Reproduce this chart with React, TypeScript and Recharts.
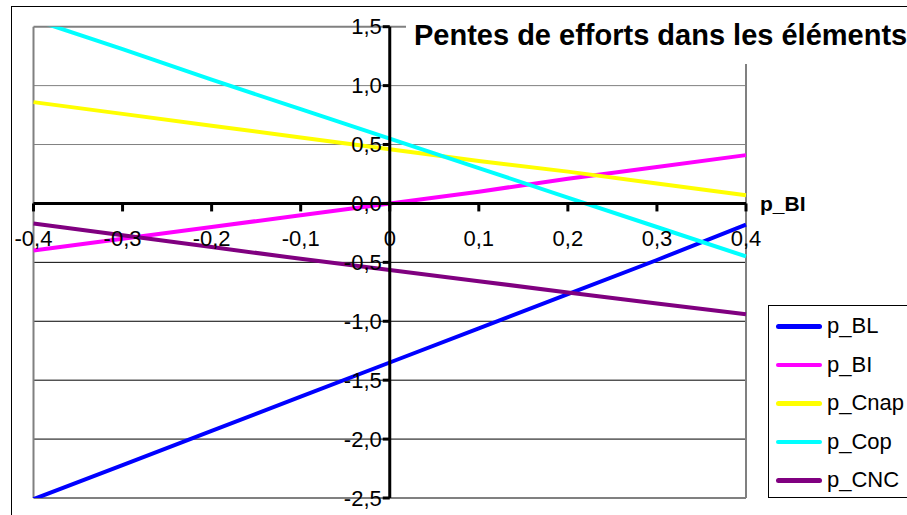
import React from 'react';
import { LineChart, Line, XAxis, YAxis, ReferenceLine, ReferenceDot, Legend } from 'recharts';

// abscisse p_BI
const X_VALUES = [-0.4, -0.3, -0.2, -0.1, 0, 0.1, 0.2, 0.3, 0.4];

// pentes
const P_BL = [-2.51, -2.22, -1.93, -1.64, -1.35, -1.06, -0.77, -0.48, -0.18];
const P_BI = [-0.4, -0.3, -0.2, -0.1, 0.0, 0.1, 0.21, 0.31, 0.41];
const P_CNAP = [0.86, 0.76, 0.66, 0.56, 0.46, 0.36, 0.27, 0.17, 0.07];
const P_COP = [1.56, 1.31, 1.05, 0.8, 0.55, 0.3, 0.05, -0.2, -0.45];
const P_CNC = [-0.17, -0.27, -0.37, -0.47, -0.565, -0.66, -0.755, -0.85, -0.94];

const SERIES_NAMES = ['p_BL', 'p_BI', 'p_Cnap', 'p_Cop', 'p_CNC'];
const SERIES_COLORS = ['#0000ff', '#ff00ff', '#ffff00', '#00ffff', '#800080'];
const SERIES_VALUES = [P_BL, P_BI, P_CNAP, P_COP, P_CNC];

const X_TICKS = [-0.4, -0.3, -0.2, -0.1, 0, 0.1, 0.2, 0.3, 0.4];
const X_TICK_LABELS = ['-0,4', '-0,3', '-0,2', '-0,1', '0', '0,1', '0,2', '0,3', '0,4'];
const Y_TICKS = [1.5, 1, 0.5, 0, -0.5, -1, -1.5, -2, -2.5];
const Y_TICK_LABELS = ['1,5', '1,0', '0,5', '0,0', '-0,5', '-1,0', '-1,5', '-2,0', '-2,5'];

const TITLE = 'Pentes de efforts dans les éléments';
const X_TITLE = 'p_BI';

const FONT = '"Liberation Sans", Arial, sans-serif';

const data = X_VALUES.map((x, i) => {
  const row: Record<string, number> = { x };
  SERIES_NAMES.forEach((name, s) => {
    row[name] = SERIES_VALUES[s][i];
  });
  return row;
});

const xTickShape = (label: string) => (props: any) => {
  const { cx, cy } = props;
  return (
    <g>
      <line x1={cx} y1={cy} x2={cx} y2={cy + 8} stroke="#000" strokeWidth={3} />
      <text x={cx} y={cy + 43} textAnchor="middle" fontSize={22} fontFamily={FONT} fill="#000">
        {label}
      </text>
    </g>
  );
};

const yTickShape = (label: string) => (props: any) => {
  const { cx, cy } = props;
  return (
    <g>
      <line x1={cx - 7} y1={cy} x2={cx} y2={cy} stroke="#000" strokeWidth={3} />
      <text x={cx - 8} y={cy + 7.7} textAnchor="end" fontSize={22} fontFamily={FONT} fill="#000">
        {label}
      </text>
    </g>
  );
};

const renderLegend = (props: any) => {
  const payload = [...(props.payload || [])].sort(
    (a: any, b: any) => SERIES_NAMES.indexOf(a.value) - SERIES_NAMES.indexOf(b.value)
  );
  return (
    <div
      style={{
        width: 160,
        height: 193,
        border: '1px solid #000',
        boxSizing: 'border-box',
        background: '#fff',
        paddingTop: 1,
      }}
    >
      {payload.map((entry: any) => (
        <div key={entry.value} style={{ display: 'flex', alignItems: 'center', height: 38.5 }}>
          <span
            style={{
              display: 'inline-block',
              width: 46,
              height: 4.5,
              borderRadius: 3,
              background: entry.color,
              marginLeft: 7,
              marginRight: 5,
            }}
          />
          <span style={{ fontSize: 22, fontFamily: FONT, color: '#000', lineHeight: 1 }}>{entry.value}</span>
        </div>
      ))}
    </div>
  );
};

export default function App() {
  return (
    <div
      style={{
        position: 'absolute',
        left: 0,
        top: 0,
        width: 907,
        height: 515,
        overflow: 'hidden',
        background: '#fff',
      }}
    >
      <LineChart
        width={907}
        height={515}
        data={data}
        margin={{ top: 26.7, right: 161, bottom: 17, left: 33.5 }}
      >
        <XAxis dataKey="x" type="number" domain={[-0.4, 0.4]} ticks={X_TICKS} hide />
        <YAxis type="number" domain={[-2.5, 1.5]} ticks={Y_TICKS} allowDataOverflow hide />

        {Y_TICKS.filter(v => v !== 0).map(v => (
          <ReferenceLine
            key={`g${v}`}
            y={v}
            stroke={v > 0 || v === -2.5 ? '#808080' : '#000'}
            strokeWidth={v === 1.5 || v === -2.5 ? 2 : 1}
          />
        ))}
        <ReferenceLine x={-0.4} stroke="#808080" strokeWidth={2} />
        <ReferenceLine x={0.4} stroke="#808080" strokeWidth={2} />

        {SERIES_NAMES.map((name, s) => (
          <Line
            key={name}
            type="linear"
            dataKey={name}
            name={name}
            stroke={SERIES_COLORS[s]}
            strokeWidth={4}
            dot={false}
            activeDot={false}
            isAnimationActive={false}
          />
        ))}

        <ReferenceLine y={0} stroke="#000" strokeWidth={3} />
        <ReferenceLine x={0} stroke="#000" strokeWidth={3} />
        {X_TICKS.map((v, i) => (
          <ReferenceDot key={`xt${v}`} x={v} y={0} r={0} shape={xTickShape(X_TICK_LABELS[i])} />
        ))}
        {Y_TICKS.map((v, i) => (
          <ReferenceDot key={`yt${v}`} x={0} y={v} r={0} shape={yTickShape(Y_TICK_LABELS[i])} />
        ))}

        <Legend
          layout="horizontal"
          verticalAlign="middle"
          align="center"
          content={renderLegend}
          wrapperStyle={{ left: 768, top: 305, width: 160, height: 193, right: 'auto', bottom: 'auto' }}
        />
      </LineChart>

      <svg
        width={907}
        height={515}
        style={{ position: 'absolute', left: 0, top: 0, pointerEvents: 'none' }}
      >
        <rect x={11.5} y={6.5} width={1000} height={600} fill="none" stroke="#000" strokeWidth={1} />
        <rect x={406} y={8} width={510} height={56} fill="#fff" />
        <text x={414} y={45} fontSize={29} fontWeight="bold" fontFamily={FONT} fill="#000">
          {TITLE}
        </text>
        <text x={760} y={211} fontSize={21} fontWeight="bold" fontFamily={FONT} fill="#000">
          {X_TITLE}
        </text>
      </svg>
    </div>
  );
}
